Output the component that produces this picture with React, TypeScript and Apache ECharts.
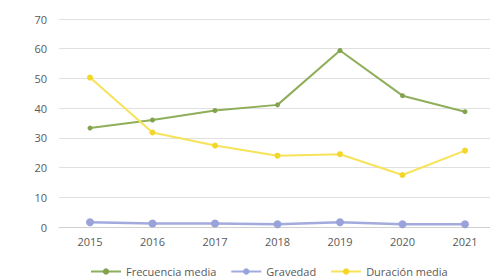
import React, { useEffect, useRef } from "react";
import * as echarts from "echarts";

const years = ["2015", "2016", "2017", "2018", "2019", "2020", "2021"];
const frecuencia = [33.3, 36.0, 39.2, 41.1, 59.4, 44.2, 38.8];
const gravedad = [1.6, 1.2, 1.2, 0.9, 1.6, 0.9, 0.9];
const duracion = [50.3, 31.8, 27.4, 24.0, 24.5, 17.5, 25.7];

export default function App() {
  const ref = useRef<HTMLDivElement>(null);
  useEffect(() => {
    const chart = echarts.init(ref.current!, null, { renderer: "svg" });
    const font = "'Open Sans', Calibri, sans-serif";
    chart.setOption({
      animation: false,
      textStyle: { fontFamily: font },
      grid: [
        { left: 90, right: 25, top: 19, height: 208 },
        { left: 59, right: 0, top: 19, height: 208 },
      ],
      xAxis: [
        {
          type: "category",
          gridIndex: 0,
          data: years,
          boundaryGap: false,
          axisLine: { show: false },
          axisTick: { show: false },
          axisLabel: { color: "#595959", fontSize: 11, margin: 9, fontFamily: font },
        },
        {
          type: "value",
          gridIndex: 1,
          min: 0,
          max: 1,
          axisLine: { show: true, lineStyle: { color: "#d0d0d0" } },
          axisTick: { show: false },
          axisLabel: { show: false },
          splitLine: { show: false },
        },
      ],
      yAxis: [
        {
          type: "value",
          gridIndex: 0,
          min: 0,
          max: 70,
          interval: 10,
          show: false,
          splitLine: { show: false },
        },
        {
          type: "value",
          gridIndex: 1,
          min: 0,
          max: 70,
          interval: 10,
          axisLine: { show: false },
          axisTick: { show: false },
          splitLine: { lineStyle: { color: "#e0e0e0" } },
          axisLabel: { color: "#595959", fontSize: 11, margin: 12, fontFamily: font },
        },
      ],
      legend: {
        top: 261,
        left: 85,
        itemWidth: 30,
        itemHeight: 8,
        itemGap: 14,
        textStyle: { color: "#595959", fontSize: 11, fontFamily: font },
      },
      series: [
        {
          name: "Frecuencia media",
          type: "line",
          data: frecuencia,
          symbol: "circle",
          symbolSize: 5,
          lineStyle: { color: "#8fae5a", width: 2 },
          itemStyle: { color: "#82a24e" },
        },
        {
          name: "Gravedad",
          type: "line",
          data: gravedad,
          symbol: "circle",
          symbolSize: 8,
          lineStyle: { color: "#a3aade", width: 2.5 },
          itemStyle: { color: "#9aa3d9" },
        },
        {
          name: "Duración media",
          type: "line",
          data: duracion,
          symbol: "circle",
          symbolSize: 6,
          lineStyle: { color: "#f7e35a", width: 2 },
          itemStyle: { color: "#f2d629" },
        },
      ],
    });
    return () => chart.dispose();
  }, []);
  return <div ref={ref} style={{ width: 490, height: 278, position: "fixed", left: 0, top: 0, background: "#fff" }} />;
}
